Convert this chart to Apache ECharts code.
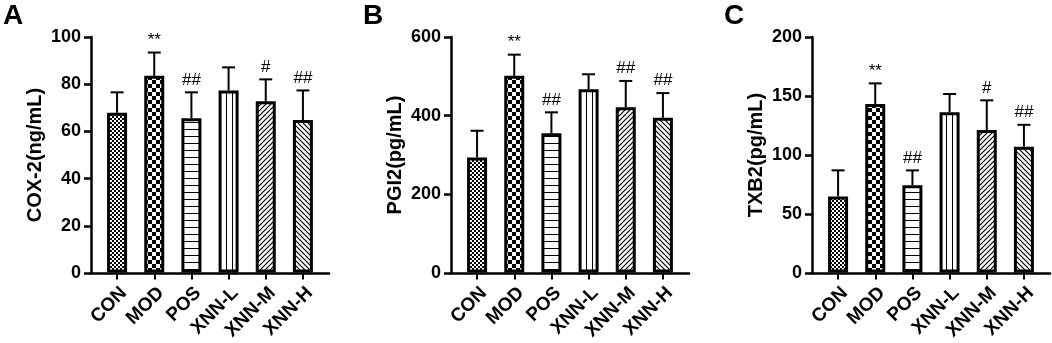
<!DOCTYPE html>
<html>
<head>
<meta charset="utf-8">
<script src="https://cdn.jsdelivr.net/npm/echarts@6/dist/echarts.min.js"></script>
<style>
  html, body { margin: 0; padding: 0; background: #fff; }
  #chart { width: 1052px; height: 343px; }
</style>
</head>
<body>
<div id="chart"></div>
<script>
var categories = ['CON', 'MOD', 'POS', 'XNN-L', 'XNN-M', 'XNN-H'];

// panel A: COX-2 (ng/mL)
var cox2Mean = [67.8, 83.5, 65.5, 77.3, 72.7, 64.7];
var cox2Sd   = [8.7, 9.9, 11.0, 9.8, 9.3, 12.6];
var cox2Sig  = ['', '**', '##', '', '#', '##'];

// panel B: PGI2 (pg/mL)
var pgi2Mean = [293, 501, 355, 467, 421, 394];
var pgi2Sd   = [68, 54, 53, 38, 67, 63];
var pgi2Sig  = ['', '**', '##', '', '##', '##'];

// panel C: TXB2 (pg/mL)
var txb2Mean = [64.5, 143.1, 74.1, 136.1, 120.9, 106.8];
var txb2Sd   = [22.2, 17.5, 12.6, 15.5, 25.3, 18.6];
var txb2Sig  = ['', '**', '##', '', '#', '##'];

var FONT = 'Liberation Sans, Arial, sans-serif';

function makePattern(w, h, draw) {
  var c = document.createElement('canvas');
  c.width = w; c.height = h;
  var ctx = c.getContext('2d');
  ctx.fillStyle = '#fff';
  ctx.fillRect(0, 0, w, h);
  ctx.fillStyle = '#000';
  ctx.strokeStyle = '#000';
  draw(ctx);
  return { image: c, repeat: 'repeat' };
}

var patterns = [
  // fine checker
  makePattern(4, 4, function (ctx) { ctx.fillRect(0, 0, 2, 2); ctx.fillRect(2, 2, 2, 2); }),
  // coarse checker
  makePattern(8, 8, function (ctx) { ctx.fillRect(0, 0, 4, 4); ctx.fillRect(4, 4, 4, 4); }),
  // horizontal lines
  makePattern(7, 7, function (ctx) { ctx.fillRect(0, 3, 7, 1); }),
  // vertical lines
  makePattern(6, 6, function (ctx) { ctx.fillRect(4, 0, 1, 6); }),
  // forward diagonal
  makePattern(5, 5, function (ctx) {
    ctx.lineWidth = 1.2;
    ctx.beginPath();
    ctx.moveTo(0, 5); ctx.lineTo(5, 0);
    ctx.moveTo(-1, 1); ctx.lineTo(1, -1);
    ctx.moveTo(4, 6); ctx.lineTo(6, 4);
    ctx.stroke();
  }),
  // back diagonal
  makePattern(5, 5, function (ctx) {
    ctx.lineWidth = 1.2;
    ctx.beginPath();
    ctx.moveTo(0, 0); ctx.lineTo(5, 5);
    ctx.moveTo(4, -1); ctx.lineTo(6, 1);
    ctx.moveTo(-1, 4); ctx.lineTo(1, 6);
    ctx.stroke();
  })
];

var grids = [], xAxes = [], yAxes = [], series = [], titles = [];

function addPanel(p, letter, axisX, yName, mean, sd, sig, yMax, yInterval) {
  var outer = 2 * p, inner = 2 * p + 1;
  grids.push({ left: axisX, width: 238, top: 37, bottom: 70 });
  grids.push({ left: axisX + 7.5, width: 223, top: 37, bottom: 70 });

  titles.push({
    text: letter, left: axisX - 88, top: 2, padding: 0,
    textStyle: { fontSize: 28, fontWeight: 'bold', color: '#000', fontFamily: FONT }
  });

  // outer grid: long x baseline and the y axis
  xAxes.push({
    gridIndex: outer, type: 'value', min: 0, max: 1,
    axisLine: { show: true, lineStyle: { color: '#000', width: 2.5 } },
    axisTick: { show: false }, axisLabel: { show: false }, splitLine: { show: false }
  });
  yAxes.push({
    gridIndex: outer, type: 'value', min: 0, max: yMax, interval: yInterval,
    name: yName, nameLocation: 'middle', nameGap: 46,
    nameTextStyle: { fontSize: 20, fontWeight: 'bold', color: '#000', fontFamily: FONT },
    axisLine: { show: true, lineStyle: { color: '#000', width: 2.5 } },
    axisTick: { show: true, length: 7, lineStyle: { color: '#000', width: 2.5 } },
    axisLabel: { fontSize: 18, fontWeight: 'bold', color: '#000', fontFamily: FONT, margin: 10 },
    splitLine: { show: false }
  });

  // inner grid: category bands for the bars
  xAxes.push({
    gridIndex: inner, type: 'category', data: categories,
    axisLine: { show: false },
    axisTick: { show: true, alignWithLabel: true, length: 7, lineStyle: { color: '#000', width: 2 } },
    axisLabel: {
      rotate: 45, interval: 0, margin: 11, verticalAlign: 'top',
      fontSize: 19, fontWeight: 'bold', color: '#000', fontFamily: FONT
    }
  });
  yAxes.push({
    gridIndex: inner, type: 'value', min: 0, max: yMax, interval: yInterval, show: false
  });

  series.push({
    type: 'bar', xAxisIndex: inner, yAxisIndex: inner,
    barWidth: 20,
    itemStyle: { borderColor: '#000', borderWidth: 3 },
    data: mean.map(function (v, i) { return { value: v, itemStyle: { color: patterns[i] } }; }),
    z: 2
  });

  series.push({
    type: 'custom', xAxisIndex: inner, yAxisIndex: inner, z: 3,
    data: mean.map(function (v, i) { return [i, v, sd[i]]; }),
    renderItem: function (params, api) {
      var i = api.value(0), m = api.value(1), s = api.value(2);
      var base = api.coord([i, m]);
      var top = api.coord([i, m + s]);
      var half = 6.5;
      var children = [
        { type: 'line', shape: { x1: base[0], y1: base[1], x2: top[0], y2: top[1] },
          style: { stroke: '#000', lineWidth: 2 } },
        { type: 'line', shape: { x1: top[0] - half, y1: top[1], x2: top[0] + half, y2: top[1] },
          style: { stroke: '#000', lineWidth: 2 } }
      ];
      var label = sig[params.dataIndex];
      if (label) {
        children.push({
          type: 'text',
          style: {
            x: top[0], y: top[1] - 4, text: label,
            align: 'center', verticalAlign: 'bottom',
            font: '17px ' + FONT, fill: '#000'
          }
        });
      }
      return { type: 'group', children: children };
    }
  });
}

addPanel(0, 'A', 91, 'COX-2(ng/mL)', cox2Mean, cox2Sd, cox2Sig, 100, 20);
addPanel(1, 'B', 451, 'PGI2(pg/mL)', pgi2Mean, pgi2Sd, pgi2Sig, 600, 200);
addPanel(2, 'C', 812, 'TXB2(pg/mL)', txb2Mean, txb2Sd, txb2Sig, 200, 50);

var chart = echarts.init(document.getElementById('chart'));
chart.setOption({
  backgroundColor: '#fff',
  animation: false,
  title: titles,
  grid: grids,
  xAxis: xAxes,
  yAxis: yAxes,
  series: series
});
</script>
</body>
</html>
